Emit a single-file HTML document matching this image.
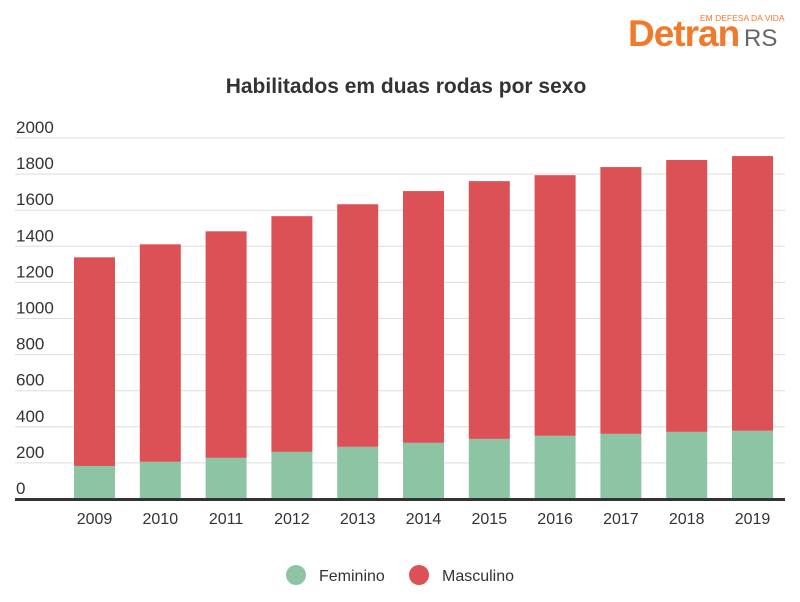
<!DOCTYPE html>
<html><head><meta charset="utf-8"><style>
body{margin:0;background:#fff;width:800px;height:597px;overflow:hidden;font-family:"Liberation Sans",sans-serif}
</style></head><body>
<svg id="chart" width="800" height="597" xmlns="http://www.w3.org/2000/svg">
<g>
<text x="700" y="21" font-size="8.5" fill="#f07a2a">EM DEFESA DA VIDA</text>
<text x="628" y="46" font-size="37" font-weight="bold" fill="#f07a2a" letter-spacing="-1">Detran</text>
<text x="744" y="46" font-size="24" fill="#666">RS</text>
</g>
<text x="406" y="93" font-size="21" font-weight="bold" fill="#333" text-anchor="middle">Habilitados em duas rodas por sexo</text>
<g id="grid"></g><g id="bars"></g><g id="xl"></g>
<rect x="15" y="498" width="770" height="3" fill="#333"/>
<g>
<circle cx="296" cy="575" r="10" fill="#8dc5a4"/>
<text x="319" y="581" font-size="16" fill="#333">Feminino</text>
<circle cx="419" cy="575" r="10" fill="#dc5155"/>
<text x="442" y="581" font-size="16" fill="#333">Masculino</text>
</g>
</svg>
<script>
const categories=["2009","2010","2011","2012","2013","2014","2015","2016","2017","2018","2019"];
const feminino=[183,206,228,261,289,311,333,350,361,372,378];
const masculino=[1156,1205,1255,1306,1344,1395,1428,1444,1478,1506,1522];
const yTicks=[0,200,400,600,800,1000,1200,1400,1600,1800,2000];
const NS="http://www.w3.org/2000/svg";
const y=v=>499-v*0.1805;
const x=i=>74+i*65.8;
const bw=41;
function mk(t,a,p){const e=document.createElementNS(NS,t);for(const k in a)e.setAttribute(k,a[k]);p.appendChild(e);return e;}
const g=document.getElementById('grid');
yTicks.forEach(t=>{
 if(t>0){const l=mk('line',{x1:15,x2:785,y1:y(t),y2:y(t),stroke:'#ddd','stroke-width':1},g);
 
 }
 const tx=mk('text',{x:16,y:y(t)-5,'font-size':17,fill:'#333'},g);tx.textContent=t;
 
 
});
const b=document.getElementById('bars'),xl=document.getElementById('xl');
categories.forEach((c,i)=>{
 const f=mk('rect',{x:x(i),width:bw,y:y(feminino[i]),height:y(0)-y(feminino[i]),fill:'#8dc5a4'},b);
 
 
 const tot=feminino[i]+masculino[i];
 const m=mk('rect',{x:x(i),width:bw,y:y(tot),height:y(feminino[i])-y(tot),fill:'#dc5155'},b);
 
 
 const t=mk('text',{x:x(i)+bw/2,y:524,'font-size':16,fill:'#333','text-anchor':'middle'},xl);t.textContent=c;
 
 
});
</script>
</body></html>
